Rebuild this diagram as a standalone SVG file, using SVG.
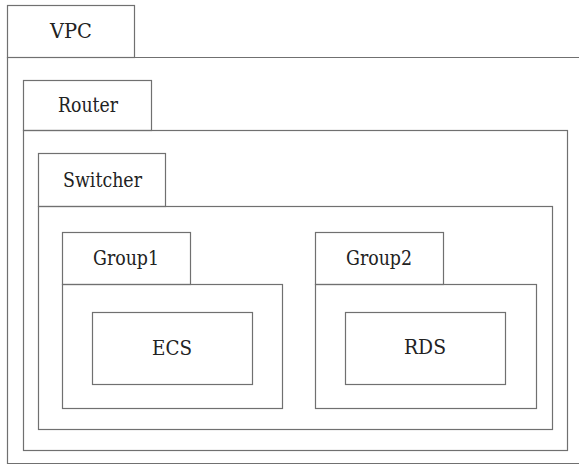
<svg xmlns="http://www.w3.org/2000/svg" width="579" height="466" viewBox="0 0 579 466">
  <style>
    .box { fill: none; stroke: #707070; stroke-width: 1.2; }
    .lbl { font-family: "DejaVu Serif", "Liberation Serif", "Times New Roman", serif; font-size: 20.5px; fill: #222; text-anchor: middle; }
  </style>
  <rect width="579" height="466" fill="#ffffff"/>

  <g id="vpc">
    <rect class="box" x="7.5" y="5.5" width="127" height="52"/>
    <path class="box" d="M590 57.5 H7.5 V463.5 H590"/>
    <text class="lbl" x="71" y="38" textLength="42" lengthAdjust="spacingAndGlyphs">VPC</text>
  </g>

  <g id="router">
    <rect class="box" x="23.5" y="80.5" width="128" height="50"/>
    <rect class="box" x="23.5" y="130.5" width="544" height="320"/>
    <text class="lbl" x="88" y="112" textLength="60" lengthAdjust="spacingAndGlyphs">Router</text>
  </g>

  <g id="switcher">
    <rect class="box" x="38.5" y="153.5" width="127" height="53"/>
    <rect class="box" x="38.5" y="206.5" width="514" height="223"/>
    <text class="lbl" x="102.5" y="187" textLength="79" lengthAdjust="spacingAndGlyphs">Switcher</text>
  </g>

  <g id="group1">
    <rect class="box" x="62.5" y="232.5" width="128" height="52"/>
    <rect class="box" x="62.5" y="284.5" width="220" height="124"/>
    <text class="lbl" x="126" y="265" textLength="66" lengthAdjust="spacingAndGlyphs">Group1</text>
  </g>

  <g id="group2">
    <rect class="box" x="315.5" y="232.5" width="128" height="52"/>
    <rect class="box" x="315.5" y="284.5" width="221" height="124"/>
    <text class="lbl" x="379" y="265" textLength="66" lengthAdjust="spacingAndGlyphs">Group2</text>
  </g>

  <g id="ecs">
    <rect class="box" x="92.5" y="312.5" width="160" height="72"/>
    <text class="lbl" x="172" y="355" textLength="40" lengthAdjust="spacingAndGlyphs">ECS</text>
  </g>

  <g id="rds">
    <rect class="box" x="345.5" y="312.5" width="160" height="72"/>
    <text class="lbl" x="425" y="354" textLength="42" lengthAdjust="spacingAndGlyphs">RDS</text>
  </g>

  <g id="connectors"></g>
</svg>
